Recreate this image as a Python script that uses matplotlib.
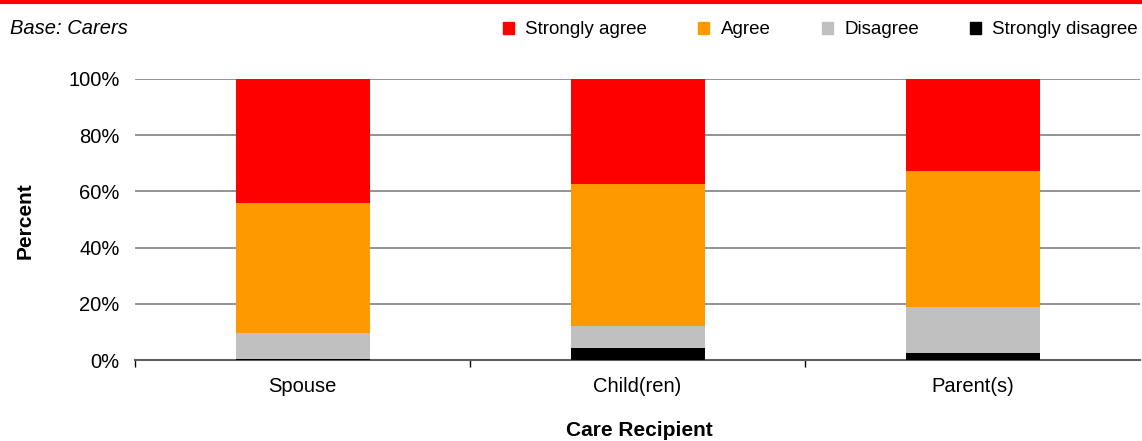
import numpy as np
import matplotlib
matplotlib.use('Agg')
from matplotlib import pyplot as plt
from matplotlib.patches import Patch

plt.rcParams['font.family'] = ['Liberation Sans', 'DejaVu Sans']

categories = ['Spouse', 'Child(ren)', 'Parent(s)']
strongly_disagree = [0.5, 4.3, 2.5]
disagree = [9.1, 7.8, 16.4]
agree = [46.3, 50.5, 48.4]
strongly_agree = [44.1, 37.4, 32.7]

series = [('Strongly disagree', strongly_disagree, '#000000'),
          ('Disagree', disagree, '#C0C0C0'),
          ('Agree', agree, '#FF9900'),
          ('Strongly agree', strongly_agree, '#FF0000')]

fig = plt.figure(figsize=(11.42, 4.41), dpi=100)
ax = fig.add_axes([135/1142, 1 - 360/441, 1005/1142, 281/441])

x = np.arange(len(categories))
bottom = np.zeros(len(categories))
for name, vals, col in series:
    ax.bar(x, vals, width=0.4, bottom=bottom, color=col, zorder=3)
    bottom += np.array(vals)

ax.set_xlim(-0.5, 2.5)
ax.set_ylim(0, 100)
ax.set_yticks(range(0, 101, 20))
ax.set_yticklabels(['%d%%' % v for v in range(0, 101, 20)], fontsize=14.5)
ax.yaxis.grid(True, color='#808080', linewidth=1.2, zorder=0)
ax.tick_params(axis='y', length=0, pad=11)

# category labels in the middle, tick marks at the boundaries
ax.set_xticks(x)
ax.set_xticklabels(categories, fontsize=14.5)
ax.tick_params(axis='x', which='major', length=0, pad=12)
ax.set_xticks([-0.5, 0.5, 1.5], minor=True)
ax.tick_params(axis='x', which='minor', length=5, color='#000000', width=1)

for s in ['top', 'right', 'left']:
    ax.spines[s].set_visible(False)
ax.spines['bottom'].set_color('#606060')
ax.spines['bottom'].set_linewidth(1.5)

fig.text(25/1142, 1 - 221/441, 'Percent', rotation=90, fontsize=15,
         fontweight='bold', ha='center', va='center')
fig.text(639/1142, 1 - 431/441, 'Care Recipient', fontsize=15,
         fontweight='bold', ha='center', va='center')
fig.text(10/1142, 1 - 29/441, 'Base: Carers', fontsize=14.5,
         style='italic', ha='left', va='center')

# red rule along the top
fig.add_artist(plt.Line2D([0, 1], [1 - 1.5/441, 1 - 1.5/441], color='#FF0000',
                          linewidth=3, transform=fig.transFigure))

handles = [Patch(color=c, label=n) for n, v, c in series[::-1]]
fig.legend(handles=handles, loc='center right', bbox_to_anchor=(1.003, 1 - 30/441),
           ncol=4, frameon=False, fontsize=13.5, handlelength=0.6, handleheight=0.6,
           handletextpad=0.6, columnspacing=2.72, borderaxespad=0)

fig.savefig('out.png', dpi=100)
